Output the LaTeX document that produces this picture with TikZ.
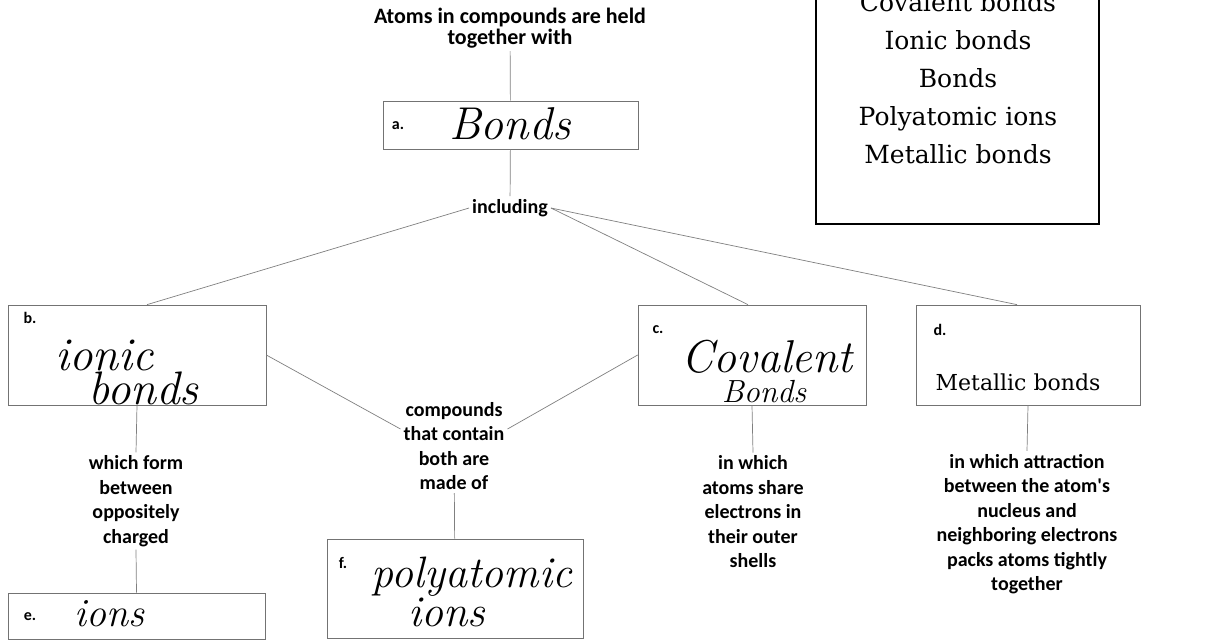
\documentclass[tikz,border=0pt]{standalone}
\usepackage{fontspec}
\newfontfamily\labfont{Carlito}
\newfontfamily\bankfont{DejaVu Serif}
\begin{document}
\begin{tikzpicture}[x=1pt,y=-1pt,
  box/.style={draw=black!55, line width=0.7pt, inner sep=0pt},
  lab/.style={font=\labfont\bfseries\fontsize{20}{24.5}\selectfont, align=center, inner sep=3pt},
  tag/.style={font=\labfont\bfseries\fontsize{16}{18}\selectfont, inner sep=0pt},
  hand/.style={font=\itshape\fontsize{44}{44}\selectfont, inner sep=0pt},
  conn/.style={draw=black!50, line width=0.7pt}]
\useasboundingbox (0,0) rectangle (1220,640);
\fill[white] (0,0) rectangle (1220,640);

% word bank
\node[draw=black, line width=1.2pt, minimum width=283pt, minimum height=260pt, inner sep=0pt] (bank) at (957.5,94) {};
\node[font=\bankfont\fontsize{25}{38}\selectfont, align=center, inner sep=0pt] (banktext) at (958,78)
  {Covalent bonds\\Ionic bonds\\Bonds\\Polyatomic ions\\Metallic bonds};

% title and a
\node[lab, font=\labfont\bfseries\fontsize{22}{20.5}\selectfont] (title) at (510,28) {Atoms in compounds are held\\together with};
\node[box, minimum width=255pt, minimum height=48pt] (a) at (510.5,125) {};
\node[tag] (ta) at (398,126) {a.};
\node[hand, font=\itshape\fontsize{46}{46}\selectfont] (ha) at (510,124) {Bonds};
\node[lab] (incl) at (510,208) {including};

% b, c, d
\node[box, minimum width=258pt, minimum height=100pt] (b) at (137,355) {};
\node[tag] (tb) at (30,318) {b.};
\node[hand, align=center, font=\itshape\fontsize{47}{30}\selectfont] (hb) at (124,372)
  {\hspace*{-39pt}ionic\\\hspace*{39pt}bonds};

\node[box, minimum width=228pt, minimum height=100pt] (c) at (752,355) {};
\node[tag] (tc) at (658,330) {c.};
\node[hand, align=center, font=\itshape\fontsize{46}{30}\selectfont] (hc) at (767,371)
  {Covalent\\{\fontsize{32}{32}\selectfont\hspace*{-6pt}Bonds}};

\node[box, minimum width=224pt, minimum height=100pt] (d) at (1028,355) {};
\node[tag] (td) at (940,330) {d.};
\node[font=\bankfont\fontsize{22}{26}\selectfont, inner sep=0pt] (hd) at (1018,382) {Metallic bonds};

% lower texts
\node[lab] (which) at (136,501) {which form\\between\\oppositely\\charged};
\node[lab] (cmp) at (454,446) {compounds\\that contain\\both are\\made of};
\node[lab] (share) at (753,512) {in which\\atoms share\\electrons in\\their outer\\shells};
\node[lab] (attr) at (1027,524) {in which attraction\\between the atom's\\nucleus and\\neighboring electrons\\packs atoms tightly\\together};

% e, f
\node[box, minimum width=257pt, minimum height=46pt] (e) at (136.5,616) {};
\node[tag] (te) at (30,617) {e.};
\node[hand, font=\itshape\fontsize{40}{40}\selectfont] (he) at (109,614) {ions};

\node[box, minimum width=256pt, minimum height=99pt] (f) at (455,588.5) {};
\node[tag] (tf) at (343,563) {f.};
\node[hand, align=center, font=\itshape\fontsize{44}{35}\selectfont] (hf) at (472,592)
  {polyatomic\\\hspace*{-50pt}ions};

% connectors
\draw[conn] (title) -- (a);
\draw[conn] (a) -- (incl);
\draw[conn] (incl.west) -- ([xshift=10pt]b.north);
\draw[conn] (incl.east) -- ([xshift=-4pt]c.north);
\draw[conn] (incl.east) -- ([xshift=-11pt]d.north);
\draw[conn] (b.east) -- ([yshift=17pt]cmp.west);
\draw[conn] ([yshift=17pt]cmp.east) -- (c.west);
\draw[conn] (cmp) -- (f);
\draw[conn] (b.south) -- (which.north);
\draw[conn] (which.south) -- (e.north);
\draw[conn] (c.south) -- (share.north);
\draw[conn] (d.south) -- (attr.north);
\end{tikzpicture}
\end{document}
